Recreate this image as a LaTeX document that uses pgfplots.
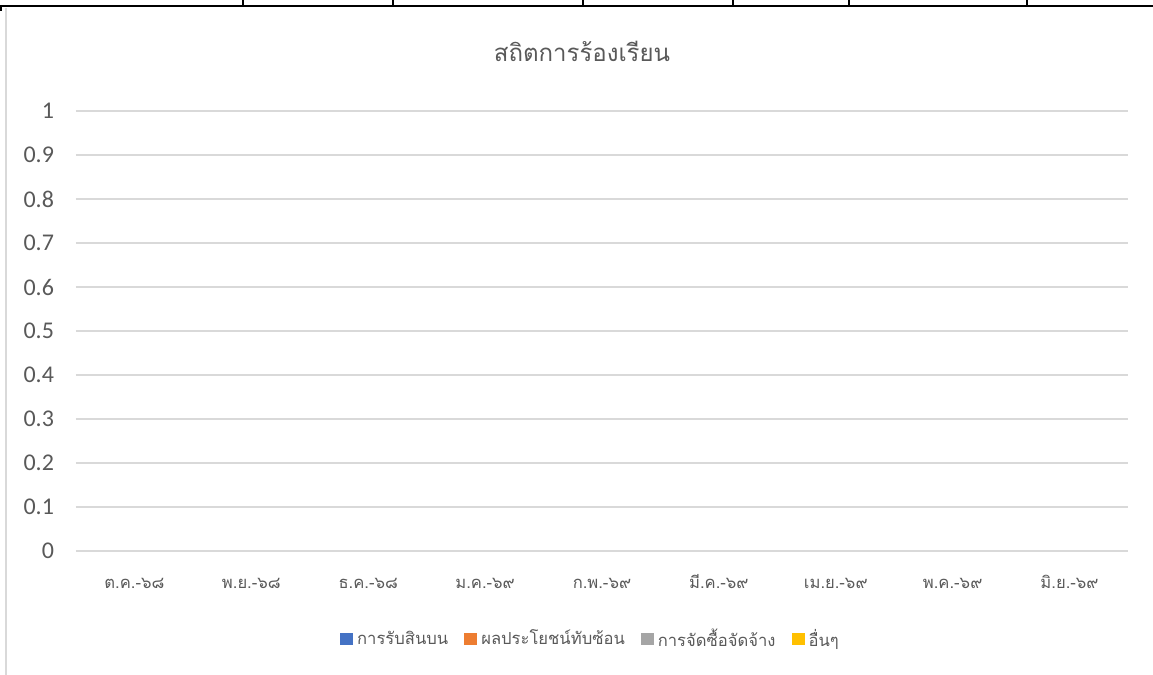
\documentclass[border=0pt]{standalone}
\usepackage{pgfplots}
\pgfplotsset{compat=1.18}
\usepackage{fontspec}
\setmainfont{Carlito}
\newfontfamily\thaifont[Script=Thai]{Loma}
\definecolor{txt}{HTML}{595959}
\definecolor{gridc}{HTML}{D9D9D9}
\definecolor{c1}{HTML}{4472C4}
\definecolor{c2}{HTML}{ED7D31}
\definecolor{c3}{HTML}{A5A5A5}
\definecolor{c4}{HTML}{FFC000}
\begin{document}
\begin{tikzpicture}
\useasboundingbox (0pt,0pt) rectangle (576.5pt,337.5pt);
% surrounding sheet lines
\draw[black,line width=1pt] (0pt,334.6pt) -- (576.5pt,334.6pt);
\foreach \xx in {121.5,196.5,291.5,366.5,424.5,513.5}
  \draw[black,line width=0.6pt] (\xx pt,337.5pt) -- (\xx pt,334.6pt);
\draw[gridc,line width=0.8pt] (3pt,333.5pt) -- (3pt,0pt);
\draw[black,line width=1pt] (0.5pt,334.6pt) -- (0.5pt,332pt);
% title
\node[text=txt,font=\thaifont\fontsize{12}{14}\selectfont] at (291pt,312pt) {สถิตการร้องเรียน};
\begin{axis}[
  at={(38pt,62pt)}, anchor=south west,
  width=526pt, height=220pt, scale only axis,
  xmin=-0.5, xmax=8.5, ymin=0, ymax=1,
  axis line style={draw=none},
  axis on top=true,
  ymajorgrids, grid style={gridc,line width=0.75pt},
  ytick={0,0.1,...,1},
  yticklabels={0,0.1,0.2,0.3,0.4,0.5,0.6,0.7,0.8,0.9,1},
  xtick={0,...,8},
  xticklabels={ต.ค.-๖๘,พ.ย.-๖๘,ธ.ค.-๖๘,ม.ค.-๖๙,ก.พ.-๖๙,มี.ค.-๖๙,เม.ย.-๖๙,พ.ค.-๖๙,มิ.ย.-๖๙},
  x tick label style={font=\thaifont\fontsize{8.3}{10}\selectfont, text=txt,
    text height=9pt, text depth=2pt, yshift=-6pt},
  y tick label style={font=\fontsize{12}{13}\selectfont, text=txt, xshift=-7.5pt},
  /pgf/number format/assume math mode=true,
  major tick length=0pt,
  ybar, bar width=10pt,
  legend columns=4,
  legend style={at={(0.49,-0.2)}, anchor=center, draw=none, fill=none,
    font=\thaifont\fontsize{8.3}{11}\selectfont, text=txt,
    /tikz/every even column/.append style={column sep=6pt}},
  legend image code/.code={\fill[#1] (0pt,-3.2pt) rectangle (6.5pt,3.2pt);},
  clip=false,
]
\addplot[fill=c1,draw=none] coordinates {(0,0) (1,0) (2,0) (3,0) (4,0) (5,0) (6,0) (7,0) (8,0)};
\addplot[fill=c2,draw=none] coordinates {(0,0) (1,0) (2,0) (3,0) (4,0) (5,0) (6,0) (7,0) (8,0)};
\addplot[fill=c3,draw=none] coordinates {(0,0) (1,0) (2,0) (3,0) (4,0) (5,0) (6,0) (7,0) (8,0)};
\addplot[fill=c4,draw=none] coordinates {(0,0) (1,0) (2,0) (3,0) (4,0) (5,0) (6,0) (7,0) (8,0)};
\legend{การรับสินบน,ผลประโยชน์ทับซ้อน,การจัดซื้อจัดจ้าง,อื่นๆ}
\end{axis}
\end{tikzpicture}
\end{document}
